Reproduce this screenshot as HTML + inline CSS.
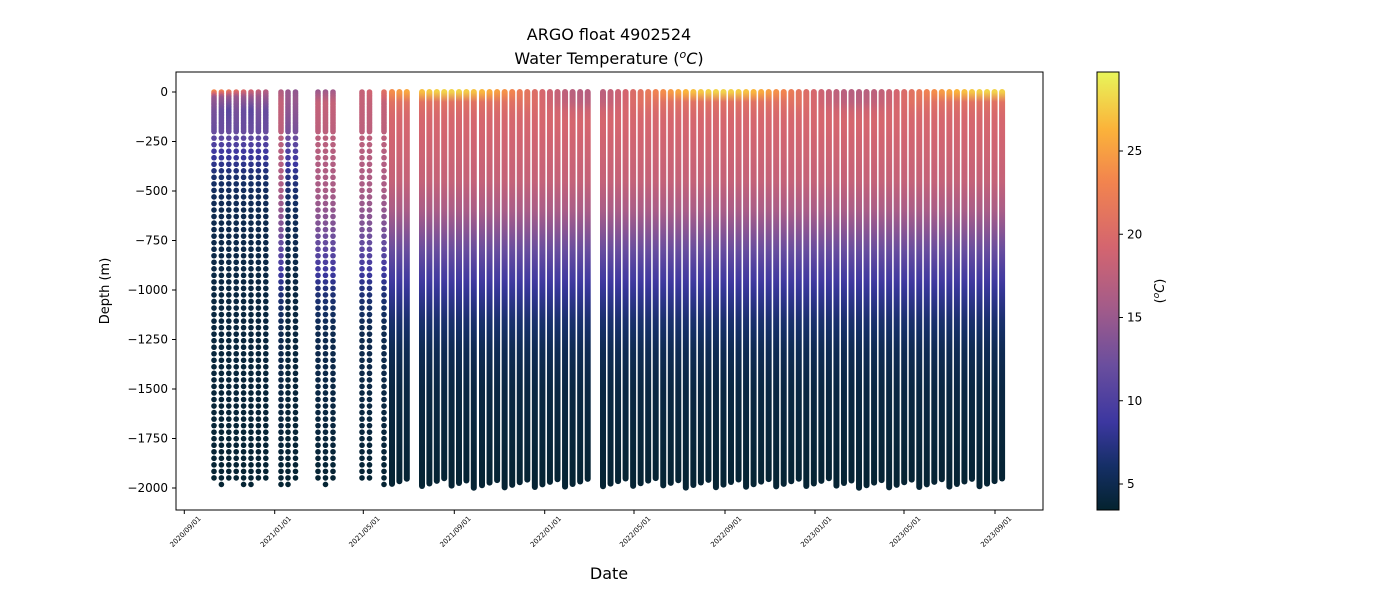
<!DOCTYPE html>
<html><head><meta charset="utf-8"><style>
html,body{margin:0;padding:0;background:#fff;}
svg{display:block;font-family:"DejaVu Sans","Liberation Sans",sans-serif;}
</style></head><body>
<svg id="s" width="1400" height="600" xmlns="http://www.w3.org/2000/svg">
<defs>
<linearGradient id="cb" x1="0" y1="1" x2="0" y2="0">
<stop offset="0" stop-color="#04232f"/>
<stop offset="0.1" stop-color="#152f66"/>
<stop offset="0.2" stop-color="#3c37a0"/>
<stop offset="0.33" stop-color="#6a4e9e"/>
<stop offset="0.47" stop-color="#a65c88"/>
<stop offset="0.6" stop-color="#d4656f"/>
<stop offset="0.75" stop-color="#f2844e"/>
<stop offset="0.87" stop-color="#fbb33a"/>
<stop offset="1" stop-color="#e8f55a"/>
</linearGradient>
</defs>
<g id="data"></g>
<rect x="176" y="72" width="867" height="438" fill="none" stroke="#000" stroke-width="1"/>
<g font-size="12" text-anchor="end" id="yt"></g>
<g id="xt"></g>
<text x="609" y="40" font-size="16" text-anchor="middle">ARGO float 4902524</text>
<text x="609" y="64" font-size="16" text-anchor="middle">Water Temperature (<tspan font-style="italic" font-size="11" dy="-6">o</tspan><tspan font-style="italic" dy="6">C</tspan>)</text>
<text transform="translate(109,291) rotate(-90)" font-size="13" text-anchor="middle">Depth (m)</text>
<text x="609" y="579" font-size="16" text-anchor="middle">Date</text>
<rect x="1097" y="72" width="22" height="438" fill="url(#cb)" stroke="#000" stroke-width="1"/>
<g font-size="12" id="ct"></g>
<text transform="translate(1164,291) rotate(-90)" font-size="13" text-anchor="middle">(<tspan font-style="italic" font-size="9" dy="-5">o</tspan><tspan font-style="italic" dy="5">C</tspan>)</text>
</svg>
<script>
var NS="http://www.w3.org/2000/svg";
function el(t,a,p){var e=document.createElementNS(NS,t);for(var k in a)e.setAttribute(k,a[k]);if(p)p.appendChild(e);return e;}
var yt=document.getElementById('yt');
for(var d=0;d>=-2000;d-=250){var y=92+0.198*(-d);
el('line',{x1:172,x2:176,y1:y,y2:y,stroke:'#000'},yt);
var t=el('text',{x:168,y:y+4},yt);t.textContent=(d<0?'\u2212'+(-d):'0');}
var xt=document.getElementById('xt');
var labs=['2020/09/01','2021/01/01','2021/05/01','2021/09/01','2022/01/01','2022/05/01','2022/09/01','2023/01/01','2023/05/01','2023/09/01'];
var xs=[184.3,274.7,363.3,454.3,544.7,634,725,815,904,995];
labs.forEach(function(l,i){var x=xs[i];el('line',{x1:x,x2:x,y1:510,y2:514,stroke:'#000'},xt);
var t=el('text',{transform:'translate('+(x+17)+',519) rotate(-45)','font-size':7,'text-anchor':'end'},xt);t.textContent=l;});
var ct=document.getElementById('ct');
[5,10,15,20,25].forEach(function(v){var y=484-(v-5)*16.65;el('line',{x1:1119,x2:1123,y1:y,y2:y,stroke:'#000'},ct);var t=el('text',{x:1127,y:y+4},ct);t.textContent=v;});
var cm=[[0,[4,35,47]],[0.1,[21,47,102]],[0.2,[60,55,160]],[0.33,[106,78,158]],[0.47,[166,92,136]],[0.6,[212,101,111]],[0.75,[242,132,78]],[0.87,[251,179,58]],[1,[232,245,90]]];
function col(T){var f=(T-3.44)/(29.74-3.44);f=Math.max(0,Math.min(1,f));for(var i=1;i<cm.length;i++){if(f<=cm[i][0]){var a=cm[i-1],b=cm[i],u=(f-a[0])/(b[0]-a[0]);return 'rgb('+[0,1,2].map(function(k){return Math.round(a[1][k]+(b[1][k]-a[1][k])*u)}).join(',')+')';}}return 'rgb(232,245,90)';}
function interp(p,d){for(var i=1;i<p.length;i++){if(d<=p[i][0]){var u=(d-p[i-1][0])/(p[i][0]-p[i-1][0]);return p[i-1][1]+(p[i][1]-p[i-1][1])*u;}}return p[p.length-1][1];}
var cols=[];
function grp(x0,n,sp,dot,type){for(var i=0;i<n;i++)cols.push({x:x0+i*sp,dot:dot,type:type});}
grp(214,8,7.4,true,1);cols.push({x:281,dot:true,type:2});grp(288,2,7.5,true,5);grp(318,3,7.5,true,2);grp(362,2,7.5,true,2);grp(384,1,7.5,true,2);
grp(392,3,7.4,false,3);grp(422,8,7.4,false,3);grp(482,15,7.55,false,3);grp(603,54,7.53,false,3);
function surf(x){var day=(x-184.3)/0.743;var doy=(day+243)%365;return 22.5+5.5*Math.cos((doy-235)/365*2*Math.PI);}
var g=document.getElementById('data');var gi=0;
var defs=document.querySelector('defs');
cols.forEach(function(c,idx){
var S=surf(c.x);
var bot=1950+((idx*37)%50);
var p;
if(c.type==1){var k=(idx%3);p=[[0,S-3],[30,15],[100,13-k],[200,12],[300,9],[450,6],[600,5],[1000,4.3],[2000,3.6]];}
else if(c.type==5){p=[[0,S-3],[40,15],[200,13],[300,10],[450,7],[600,5.5],[1000,4.3],[2000,3.6]];}
else if(c.type==2){p=[[0,S-2],[60,18],[300,17],[500,16],[700,13],[850,10],[1000,7],[1200,5],[2000,3.6]];}
else {p=[[0,S],[40,Math.min(S,21)],[120,19.5],[450,18],[600,16],[750,13],[900,10],[1000,8.3],[1150,6.5],[1300,5.2],[1500,4.4],[2000,3.6]];}
if(c.dot){
for(var d=0;d<=bot;d+=(d<200?8:33)){var y=92+0.198*d;el('circle',{cx:c.x,cy:y,r:2.8,fill:col(interp(p,d))},g);}
}else{
var id='g'+(gi++);var lg=el('linearGradient',{id:id,x1:0,y1:92,x2:0,y2:92+0.198*bot,gradientUnits:'userSpaceOnUse'},defs);
for(var d=0;d<=bot;d+=50){el('stop',{offset:(d/bot).toFixed(3),'stop-color':col(interp(p,d))},lg);}
el('rect',{x:c.x-3,y:89,width:6,height:0.198*bot+6,rx:3,fill:'url(#'+id+')'},g);
}
});
</script>
</body></html>
